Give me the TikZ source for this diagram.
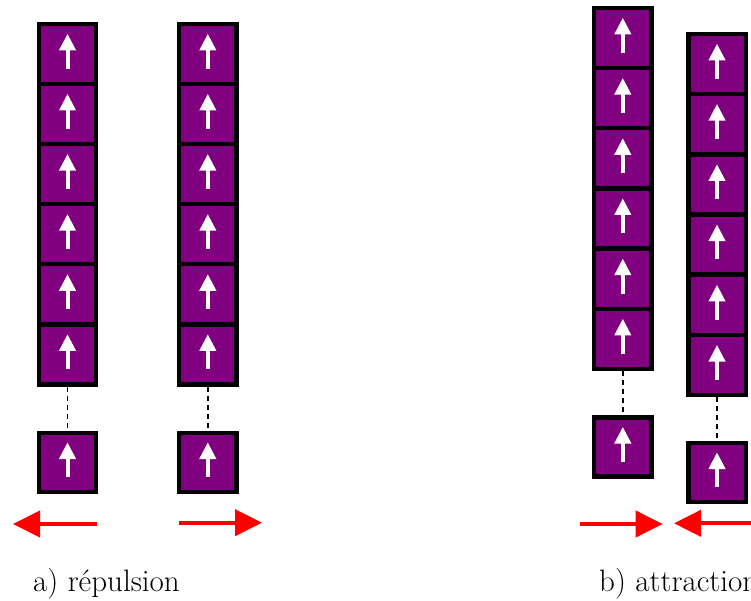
\documentclass[tikz,border=0pt]{standalone}
\usetikzlibrary{arrows.meta}
\definecolor{spinpurple}{RGB}{128,0,128}

\begin{document}
\begin{tikzpicture}[
    x=1pt,y=-1pt,
    font=\fontsize{31}{37}\selectfont,
    cell/.style={rectangle,draw=black,fill=spinpurple,line width=4.4pt,
        minimum width=57.4pt,minimum height=60.1pt,inner sep=0pt,
        path picture={\draw[white,line width=4pt,-{Triangle[length=16.7pt,width=16pt]}]
            ([yshift=-14.8pt]path picture bounding box.center) --
            ([yshift=20.2pt]path picture bounding box.center);}},
    lonecell/.style={cell,minimum height=59pt},
    link/.style={draw=black,line width=1.8pt,dash pattern=on 5pt off 4pt},
    force/.style={draw=red,line width=4.2pt,-{Triangle[length=27pt,width=26pt]}},
    caption/.style={anchor=base west,inner sep=0pt}
]
\useasboundingbox (0,0) rectangle (751,601);
% a) repulsion, left column
\node[cell] (la1) at (67.5,53.9) {};
\node[cell] (la2) at (67.5,114.0) {};
\node[cell] (la3) at (67.5,174.1) {};
\node[cell] (la4) at (67.5,234.2) {};
\node[cell] (la5) at (67.5,294.3) {};
\node[cell] (la6) at (67.5,354.4) {};
\node[lonecell] (laend) at (67.5,462.5) {};
% a) repulsion, right column
\node[cell] (ra1) at (207.8,53.9) {};
\node[cell] (ra2) at (207.8,114.0) {};
\node[cell] (ra3) at (207.8,174.1) {};
\node[cell] (ra4) at (207.8,234.2) {};
\node[cell] (ra5) at (207.8,294.3) {};
\node[cell] (ra6) at (207.8,354.4) {};
\node[lonecell] (raend) at (207.8,462.5) {};
% b) attraction, left column
\node[cell] (lb1) at (622.8,37.9) {};
\node[cell] (lb2) at (622.8,98.1) {};
\node[cell] (lb3) at (622.8,158.3) {};
\node[cell] (lb4) at (622.8,218.5) {};
\node[cell] (lb5) at (622.8,278.7) {};
\node[cell] (lb6) at (622.8,338.9) {};
\node[lonecell] (lbend) at (622.8,447.0) {};
% b) attraction, right column
\node[cell] (rb1) at (717.0,63.9) {};
\node[cell] (rb2) at (717.0,124.1) {};
\node[cell] (rb3) at (717.0,184.4) {};
\node[cell] (rb4) at (717.0,244.6) {};
\node[cell] (rb5) at (717.0,304.9) {};
\node[cell] (rb6) at (717.0,365.1) {};
\node[lonecell] (rbend) at (717.0,472.5) {};
\draw[link] (la6) -- (laend);
\draw[link] (ra6) -- (raend);
\draw[link] (lb6) -- (lbend);
\draw[link] (rb6) -- (rbend);
% forces
\coordinate (pushla) at (97,524);
\coordinate (pullla) at (13,524);
\coordinate (pushra) at (179,522.7);
\coordinate (pullra) at (262,522.7);
\coordinate (pushlb) at (580,524);
\coordinate (pulllb) at (662.7,524);
\coordinate (pushrb) at (770,523.3);
\coordinate (pullrb) at (674,523.3);
\draw[force] (pushla) -- (pullla);
\draw[force] (pushra) -- (pullra);
\draw[force] (pushlb) -- (pulllb);
\draw[force] (pushrb) -- (pullrb);
\node[caption] (capa) at (33,591.7) {a) répulsion};
\node[caption] (capb) at (599,591.7) {b) attraction};
\end{tikzpicture}
\end{document}
